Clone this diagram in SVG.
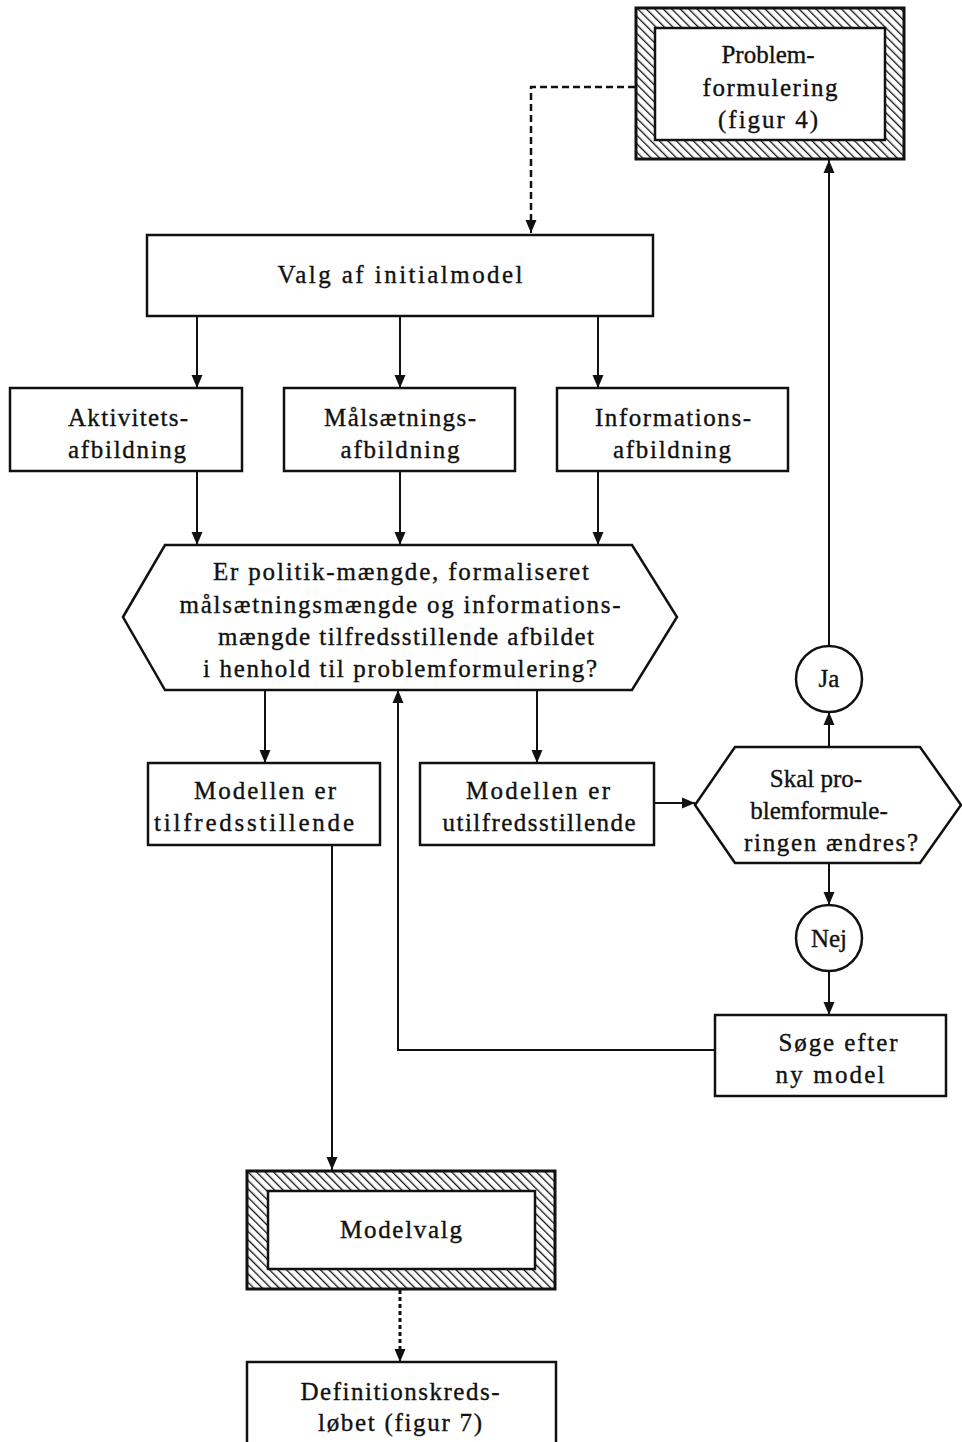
<svg xmlns="http://www.w3.org/2000/svg" width="962" height="1442" viewBox="0 0 962 1442">
  <style>
    .box { fill: #fff; stroke: #111; stroke-width: 2.5; }
    .inner { fill: #fff; stroke: #111; stroke-width: 2.5; }
    .hatch { fill: url(#hatch); stroke: #111; stroke-width: 3; }
    .lbl { font-family: "Liberation Serif", "DejaVu Serif", serif; font-size: 25px; fill: #111; stroke: #111; stroke-width: 0.35; text-anchor: middle; }
    .wire { fill: none; stroke: #111; stroke-width: 2; }
    .dash { fill: none; stroke: #111; stroke-width: 2.5; stroke-dasharray: 7 4; }
    .dot { fill: none; stroke: #111; stroke-width: 3; stroke-dasharray: 4 3; }
  </style>
  <defs>
    <pattern id="hatch" patternUnits="userSpaceOnUse" width="6" height="6" patternTransform="rotate(-45)">
      <rect width="6" height="6" fill="#fff"/>
      <line x1="0" y1="0" x2="0" y2="6" stroke="#111" stroke-width="2.6"/>
    </pattern>
    <marker id="arrow" markerUnits="userSpaceOnUse" markerWidth="13" markerHeight="12" refX="13" refY="6" orient="auto">
      <path d="M0,0.5 L13,6 L0,11.5 z" fill="#111"/>
    </marker>
  </defs>

  <!-- connectors -->
  <g id="connectors">
    <path class="dash" d="M635,87 H531 V222"/>
    <path class="wire" d="M531,222 V233" marker-end="url(#arrow)"/>
    <path class="wire" d="M197,316 V388" marker-end="url(#arrow)"/>
    <path class="wire" d="M400,316 V388" marker-end="url(#arrow)"/>
    <path class="wire" d="M598,316 V388" marker-end="url(#arrow)"/>
    <path class="wire" d="M197,471 V545" marker-end="url(#arrow)"/>
    <path class="wire" d="M400,471 V545" marker-end="url(#arrow)"/>
    <path class="wire" d="M598,471 V545" marker-end="url(#arrow)"/>
    <path class="wire" d="M265,690 V763" marker-end="url(#arrow)"/>
    <path class="wire" d="M537,690 V763" marker-end="url(#arrow)"/>
    <path class="wire" d="M654,803 H695" marker-end="url(#arrow)"/>
    <path class="wire" d="M829,747 V712" marker-end="url(#arrow)"/>
    <path class="wire" d="M829,646 V160" marker-end="url(#arrow)"/>
    <path class="wire" d="M829,863 V905" marker-end="url(#arrow)"/>
    <path class="wire" d="M829,971 V1015" marker-end="url(#arrow)"/>
    <path class="wire" d="M715,1050 H398 V690" marker-end="url(#arrow)"/>
    <path class="wire" d="M332,845 V1170" marker-end="url(#arrow)"/>
    <path class="dot" d="M400,1290 V1352"/>
    <path class="wire" d="M400,1350 V1362" marker-end="url(#arrow)"/>
  </g>

  <!-- hatched external step -->
  <g id="problemformulering">
    <rect class="hatch" x="636" y="8" width="268" height="151"/>
    <rect class="inner" x="655" y="28" width="230" height="112"/>
    <text class="lbl" x="768" y="63">Problem-</text>
    <text class="lbl" x="770" y="96" textLength="135" lengthAdjust="spacing">formulering</text>
    <text class="lbl" x="768" y="128" textLength="100" lengthAdjust="spacing">(figur 4)</text>
  </g>

  <g id="valg">
    <rect class="box" x="147" y="235" width="506" height="81"/>
    <text class="lbl" x="400" y="283" textLength="245" lengthAdjust="spacing">Valg af initialmodel</text>
  </g>

  <g id="aktivitet">
    <rect class="box" x="10" y="388" width="232" height="83"/>
    <text class="lbl" x="128" y="426" textLength="120" lengthAdjust="spacing">Aktivitets-</text>
    <text class="lbl" x="127" y="458" textLength="118" lengthAdjust="spacing">afbildning</text>
  </g>

  <g id="maalsaetning">
    <rect class="box" x="284" y="388" width="231" height="83"/>
    <text class="lbl" x="400" y="426" textLength="152" lengthAdjust="spacing">Målsætnings-</text>
    <text class="lbl" x="400" y="458" textLength="119" lengthAdjust="spacing">afbildning</text>
  </g>

  <g id="information">
    <rect class="box" x="557" y="388" width="231" height="83"/>
    <text class="lbl" x="673" y="426" textLength="156" lengthAdjust="spacing">Informations-</text>
    <text class="lbl" x="672" y="458" textLength="118" lengthAdjust="spacing">afbildning</text>
  </g>

  <g id="afbildet">
    <polygon class="box" points="123,617 165,545 632,545 677,617 632,690 165,690"/>
    <text class="lbl" x="401" y="580" textLength="376" lengthAdjust="spacing">Er politik-mængde, formaliseret</text>
    <text class="lbl" x="400" y="613" textLength="441" lengthAdjust="spacing">målsætningsmængde og informations-</text>
    <text class="lbl" x="406" y="645" textLength="376" lengthAdjust="spacing">mængde tilfredsstillende afbildet</text>
    <text class="lbl" x="400" y="677" textLength="394" lengthAdjust="spacing">i henhold til problemformulering?</text>
  </g>

  <g id="tilfreds">
    <rect class="box" x="148" y="763" width="232" height="82"/>
    <text class="lbl" x="265" y="799" textLength="142" lengthAdjust="spacing">Modellen er</text>
    <text class="lbl" x="254" y="831" textLength="200" lengthAdjust="spacing">tilfredsstillende</text>
  </g>

  <g id="utilfreds">
    <rect class="box" x="420" y="763" width="234" height="82"/>
    <text class="lbl" x="538" y="799" textLength="144" lengthAdjust="spacing">Modellen er</text>
    <text class="lbl" x="539" y="831" textLength="193" lengthAdjust="spacing">utilfredsstillende</text>
  </g>

  <g id="skal">
    <polygon class="box" points="695,805 735,747 920,747 961,805 920,863 735,863"/>
    <text class="lbl" x="816" y="787">Skal pro-</text>
    <text class="lbl" x="819" y="819">blemformule-</text>
    <text class="lbl" x="831" y="851" textLength="174" lengthAdjust="spacing">ringen ændres?</text>
  </g>

  <g id="ja">
    <circle class="box" cx="829" cy="679" r="33"/>
    <text class="lbl" x="829" y="687">Ja</text>
  </g>

  <g id="nej">
    <circle class="box" cx="829" cy="938" r="33"/>
    <text class="lbl" x="829" y="947">Nej</text>
  </g>

  <g id="soege">
    <rect class="box" x="715" y="1015" width="231" height="81"/>
    <text class="lbl" x="838" y="1051" textLength="119" lengthAdjust="spacing">Søge efter</text>
    <text class="lbl" x="830" y="1083" textLength="109" lengthAdjust="spacing">ny model</text>
  </g>

  <g id="modelvalg">
    <rect class="hatch" x="247" y="1171" width="308" height="118"/>
    <rect class="inner" x="268" y="1191" width="267" height="78"/>
    <text class="lbl" x="401" y="1238" textLength="122" lengthAdjust="spacing">Modelvalg</text>
  </g>

  <g id="definition">
    <rect class="box" x="247" y="1362" width="309" height="100"/>
    <text class="lbl" x="400" y="1400" textLength="199" lengthAdjust="spacing">Definitionskreds-</text>
    <text class="lbl" x="400" y="1431" textLength="164" lengthAdjust="spacing">løbet (figur 7)</text>
  </g>
</svg>
